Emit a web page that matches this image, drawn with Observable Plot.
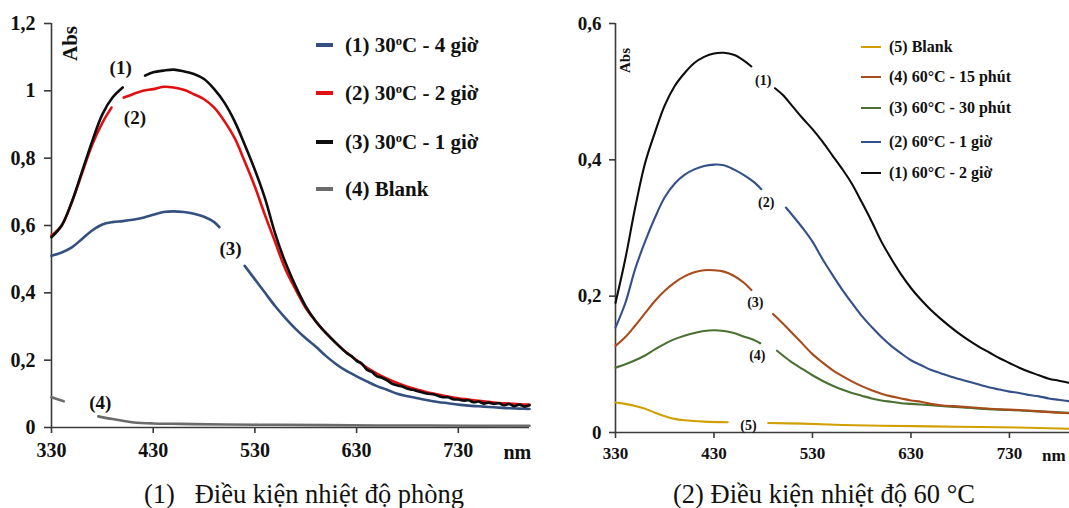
<!DOCTYPE html>
<html>
<head>
<meta charset="utf-8">
<script src="https://cdn.jsdelivr.net/npm/d3@7"></script>
<script src="https://cdn.jsdelivr.net/npm/@observablehq/plot@0.6"></script>
<style>
  html, body { margin: 0; padding: 0; background: #fff; }
  #wrap { position: relative; width: 1069px; height: 508px; background: #fff; overflow: hidden;
          font-family: "Times New Roman", "Liberation Serif", Tinos, "DejaVu Serif", serif; color: #111; }
  .panel { position: absolute; top: 0; }
  .leg { position: absolute; font-weight: bold; white-space: nowrap; line-height: 1; }
  .leg .sw { position: absolute; }
  .leg .tx { position: absolute; transform: translateY(-50%); }
  .cap { position: absolute; white-space: pre; transform: translateX(-50%); line-height: 1; }
  sup { font-size: 60%; vertical-align: 0.55em; line-height: 0; }
</style>
</head>
<body>
<div id="wrap">
  <div class="panel" id="left" style="left:0px"></div>
  <div class="panel" id="right" style="left:540px"></div>
</div>
<script>
// ---------------- Panel (1): room temperature ----------------
const leftYTicks = [0, 0.2, 0.4, 0.6, 0.8, 1, 1.2];
const leftXTicks = [330, 430, 530, 630, 730];

// (3) 30°C - 1 giờ (black)
const wlBlack30 = [330,340,350,360,370,380,390,400,null,422,430,440,450,460,470,480,490,500,510,520,530,540,550,560,570,580,590,600,610,620,625,630,635,640,645,650,655,660,665,670,675,680,685,690,695,700,705,710,715,720,725,730,735,740,745,750,755,760,765,770,775,780,785,790,795,800];
const absBlack30 = [0.565,0.60,0.67,0.76,0.85,0.93,0.98,1.01,null,1.045,1.055,1.06,1.063,1.058,1.05,1.035,1.005,0.965,0.91,0.84,0.765,0.68,0.575,0.49,0.42,0.36,0.315,0.28,0.25,0.222,0.212,0.198,0.19,0.172,0.165,0.152,0.148,0.14,0.13,0.125,0.122,0.115,0.112,0.108,0.104,0.1,0.099,0.094,0.09,0.09,0.084,0.083,0.08,0.081,0.075,0.077,0.071,0.074,0.07,0.072,0.066,0.07,0.063,0.068,0.062,0.066];

// (2) 30°C - 2 giờ (red)
const wlRed30 = [330,340,350,360,370,380,389,null,401,410,420,430,440,450,460,470,480,490,500,510,520,530,540,550,560,570,580,590,600,610,620,630,640,650,660,670,680,690,700,710,720,730,740,750,760,770,780,790,800];
const absRed30 = [0.57,0.60,0.67,0.755,0.84,0.905,0.95,null,0.98,0.99,1.0,1.005,1.012,1.01,1.003,0.99,0.975,0.95,0.91,0.86,0.79,0.715,0.63,0.55,0.47,0.41,0.355,0.315,0.28,0.25,0.223,0.2,0.178,0.16,0.145,0.132,0.121,0.112,0.104,0.098,0.092,0.087,0.083,0.079,0.076,0.073,0.071,0.069,0.068];

// (1) 30°C - 4 giờ (blue)
const wlBlue30 = [330,340,350,360,370,380,390,400,410,420,430,440,450,460,470,480,490,495,null,520,530,540,550,560,570,580,590,600,610,620,630,640,650,660,670,680,690,700,710,720,730,740,750,760,770,780,790,800];
const absBlue30 = [0.51,0.52,0.535,0.56,0.585,0.603,0.61,0.613,0.617,0.623,0.632,0.64,0.642,0.64,0.635,0.626,0.61,0.595,null,0.48,0.44,0.40,0.36,0.325,0.293,0.265,0.24,0.212,0.188,0.168,0.152,0.137,0.123,0.112,0.10,0.093,0.087,0.081,0.076,0.072,0.068,0.065,0.063,0.061,0.059,0.057,0.056,0.055];

// (4) Blank (gray)
const wlBlank30 = [330,342,null,376,390,400,411,430,450,470,500,550,600,650,700,750,800];
const absBlank30 = [0.09,0.078,null,0.033,0.025,0.02,0.015,0.012,0.011,0.01,0.009,0.008,0.007,0.006,0.006,0.005,0.005];

const leftLabelWl = [398, 412, 506, 378];
const leftLabelAbs = [1.067, 0.92, 0.53, 0.074];
const leftLabelText = ["(1)", "(2)", "(3)", "(4)"];

// ---------------- Panel (2): 60 °C ----------------
const rightYTicks = [0, 0.2, 0.4, 0.6];
const rightXTicks = [330, 430, 530, 630, 730];

// (1) 60°C - 2 giờ (black)
const wlBlack60 = [330,340,350,360,370,380,390,400,410,420,430,440,450,460,468,null,492,500,510,520,530,540,550,560,570,580,590,600,610,620,630,640,650,660,670,680,690,700,710,720,730,740,750,760,770,780,790,800];
const absBlack60 = [0.19,0.255,0.33,0.395,0.44,0.48,0.508,0.527,0.542,0.551,0.556,0.557,0.554,0.546,0.537,null,0.505,0.495,0.478,0.461,0.445,0.427,0.407,0.387,0.365,0.338,0.31,0.28,0.255,0.232,0.212,0.195,0.18,0.167,0.155,0.144,0.134,0.125,0.117,0.109,0.102,0.095,0.089,0.084,0.079,0.076,0.073,0.07];

// (2) 60°C - 1 giờ (blue)
const wlBlue60 = [330,340,350,360,370,380,390,400,410,420,430,440,450,460,470,478,null,503,510,520,530,540,550,560,570,580,590,600,610,620,630,640,650,660,670,680,690,700,710,720,730,740,750,760,770,780,790,800];
const absBlue60 = [0.154,0.19,0.24,0.28,0.315,0.345,0.365,0.378,0.386,0.391,0.393,0.392,0.386,0.378,0.368,0.357,null,0.33,0.318,0.3,0.28,0.255,0.232,0.21,0.19,0.171,0.155,0.14,0.127,0.116,0.106,0.099,0.092,0.087,0.082,0.078,0.074,0.07,0.066,0.063,0.06,0.058,0.055,0.053,0.05,0.048,0.046,0.045];

// (4) 60°C - 15 phút (brown)
const wlBrown60 = [330,340,350,360,370,380,390,400,410,420,430,440,450,460,468,null,490,500,510,520,530,540,550,560,570,580,590,600,610,620,630,640,650,660,680,700,720,740,760,780,800];
const absBrown60 = [0.127,0.14,0.157,0.175,0.193,0.208,0.22,0.229,0.235,0.238,0.238,0.236,0.23,0.22,0.209,null,0.174,0.16,0.145,0.13,0.115,0.103,0.092,0.083,0.075,0.068,0.062,0.057,0.053,0.05,0.047,0.045,0.042,0.04,0.038,0.036,0.034,0.033,0.031,0.029,0.028];

// (3) 60°C - 30 phút (green)
const wlGreen60 = [330,340,350,360,370,380,390,400,410,420,430,440,450,460,470,477,null,494,500,510,520,530,540,550,560,570,580,590,600,610,620,630,650,670,700,730,760,790,800];
const absGreen60 = [0.095,0.1,0.106,0.113,0.122,0.13,0.137,0.142,0.146,0.149,0.15,0.149,0.146,0.141,0.136,0.131,null,0.12,0.113,0.102,0.093,0.084,0.076,0.069,0.063,0.058,0.054,0.05,0.047,0.045,0.043,0.042,0.04,0.038,0.035,0.033,0.031,0.029,0.028];

// (5) Blank (yellow)
const wlBlank60 = [330,340,350,360,370,380,390,400,420,444,null,485,520,560,600,650,700,750,800];
const absBlank60 = [0.044,0.042,0.039,0.035,0.029,0.024,0.02,0.018,0.016,0.015,null,0.014,0.013,0.011,0.01,0.009,0.008,0.007,0.005];

const rightLabelWl = [480, 483, 472, 474, 465];
const rightLabelAbs = [0.517, 0.337, 0.19, 0.113, 0.01];
const rightLabelText = ["(1)", "(2)", "(3)", "(4)", "(5)"];

// ---------------- helpers ----------------
const toRows = (wl, ab) => wl.map((w, i) => ({wl: w, abs: ab[i]}));
const fmt = d => (d === 0 ? "0" : String(+d.toFixed(1)).replace(".", ","));
const axisColor = "#3a3a3a";
const FONT = "'Times New Roman', 'Liberation Serif', Tinos, 'DejaVu Serif', serif";

function panel(cfg) {
  const marks = [
    Plot.ruleX([330], {y1: 0, y2: cfg.yMax, stroke: axisColor, strokeWidth: 1.6}),
    Plot.ruleY([0], {x1: 330, x2: cfg.xEnd, stroke: axisColor, strokeWidth: 1.6}),
    Plot.axisY({ticks: cfg.yTicks, tickSize: cfg.yTickSize, tickPadding: cfg.yPad, tickFormat: fmt, stroke: axisColor, strokeWidth: 1.6,
                fontSize: cfg.tickFont, fontWeight: "bold", label: null}),
    Plot.axisX({ticks: cfg.xTicks, tickSize: 6, tickPadding: cfg.xPad, tickFormat: d => String(d), stroke: axisColor, strokeWidth: 1.6,
                fontSize: cfg.xTickFont, fontWeight: "bold", label: null}),
    Plot.text(["nm"], {x: cfg.nmX, y: 0, dy: cfg.nmDy, fontSize: cfg.xTickFont, fontWeight: "bold", fill: "#111"}),
    Plot.text(["Abs"], {frameAnchor: "top-left", dx: cfg.absDx, dy: cfg.absDy, rotate: -90, textAnchor: "middle", lineAnchor: "middle",
                        fontSize: cfg.absFont, fontWeight: "bold", fill: "#111"})
  ];
  for (const s of cfg.series) {
    marks.push(Plot.line(toRows(s.wl, s.abs), {x: "wl", y: "abs", stroke: s.color, strokeWidth: cfg.lineWidth, curve: "catmull-rom"}));
  }
  marks.push(Plot.text(cfg.labelText, {x: (d, i) => cfg.labelWl[i], y: (d, i) => cfg.labelAbs[i], text: d => d,
                                       fontSize: cfg.labelFont, fontWeight: "bold", fill: "#111"}));
  return Plot.plot({
    width: cfg.width, height: 470,
    marginLeft: cfg.ml, marginRight: cfg.mr, marginTop: 23, marginBottom: cfg.mb,
    x: {domain: [330, cfg.xEnd]},
    y: {domain: [0, cfg.yMax]},
    style: {fontFamily: FONT, background: "transparent", color: "#111", overflow: "visible"},
    marks
  });
}

const leftSeries = [
  {wl: wlBlank30, abs: absBlank30, color: "#6b6b6b"},
  {wl: wlBlue30, abs: absBlue30, color: "#33507f"},
  {wl: wlRed30, abs: absRed30, color: "#e01010"},
  {wl: wlBlack30, abs: absBlack30, color: "#0d0d0d"}
];
const rightSeries = [
  {wl: wlBlank60, abs: absBlank60, color: "#d0a000"},
  {wl: wlGreen60, abs: absGreen60, color: "#4a7132"},
  {wl: wlBrown60, abs: absBrown60, color: "#a94c1c"},
  {wl: wlBlue60, abs: absBlue60, color: "#34508a"},
  {wl: wlBlack60, abs: absBlack60, color: "#0d0d0d"}
];

document.getElementById("left").append(panel({
  width: 535, ml: 51, mr: 6, mb: 43, xEnd: 800, yMax: 1.2,
  yTicks: leftYTicks, xTicks: leftXTicks, tickFont: 20, xTickFont: 20, lineWidth: 2.6,
  yTickSize: 7, yPad: 9, xPad: 9,
  nmX: 788, nmDy: 25, absDx: 19, absDy: 20, absFont: 21,
  series: leftSeries, labelWl: leftLabelWl, labelAbs: leftLabelAbs, labelText: leftLabelText, labelFont: 19
}));
document.getElementById("right").append(panel({
  width: 529, ml: 75, mr: 0, mb: 38, xEnd: 791, yMax: 0.6,
  yTicks: rightYTicks, xTicks: rightXTicks, tickFont: 19, xTickFont: 17, lineWidth: 2.1,
  yTickSize: 6, yPad: 8, xPad: 8,
  nmX: 775, nmDy: 23, absDx: 10, absDy: 37, absFont: 15,
  series: rightSeries, labelWl: rightLabelWl, labelAbs: rightLabelAbs, labelText: rightLabelText, labelFont: 14
}));

// ---------------- legends & captions (HTML) ----------------
const leftLegendText = ["(1) 30<sup>o</sup>C - 4 giờ", "(2) 30<sup>o</sup>C - 2 giờ", "(3) 30<sup>o</sup>C - 1 giờ", "(4) Blank"];
const leftLegendColor = ["#33507f", "#e01010", "#0d0d0d", "#6b6b6b"];
const leftLegendY = [45, 93, 142, 189];
const rightLegendText = ["(5) Blank", "(4) 60°C - 15 phút", "(3) 60°C - 30 phút", "(2) 60°C - 1 giờ", "(1) 60°C - 2 giờ"];
const rightLegendColor = ["#d0a000", "#a94c1c", "#4a7132", "#34508a", "#0d0d0d"];
const rightLegendY = [47, 77, 108, 142, 173];

const wrap = document.getElementById("wrap");
function legend(texts, colors, ys, swX, swW, txX, fs, swH) {
  texts.forEach((t, i) => {
    const d = document.createElement("div");
    d.className = "leg";
    d.style.left = "0px"; d.style.top = ys[i] + "px"; d.style.fontSize = fs + "px";
    d.innerHTML = `<span class="sw" style="left:${swX}px;width:${swW}px;height:${swH}px;top:${-swH/2}px;background:${colors[i]}"></span><span class="tx" style="left:${txX}px">${t}</span>`;
    wrap.append(d);
  });
}
legend(leftLegendText, leftLegendColor, leftLegendY, 316, 17, 345, 21, 3.5);
legend(rightLegendText, rightLegendColor, rightLegendY, 861, 20, 889, 16, 2.5);

const captions = [
  {text: "(1)   Điều kiện nhiệt độ phòng", x: 304},
  {text: "(2) Điều kiện nhiệt độ 60 °C", x: 824}
];
captions.forEach(c => {
  const d = document.createElement("div");
  d.className = "cap";
  d.style.fontSize = "26.5px";
  d.style.left = c.x + "px"; d.style.top = "481px";
  d.textContent = c.text;
  wrap.append(d);
});
</script>
</body>
</html>
